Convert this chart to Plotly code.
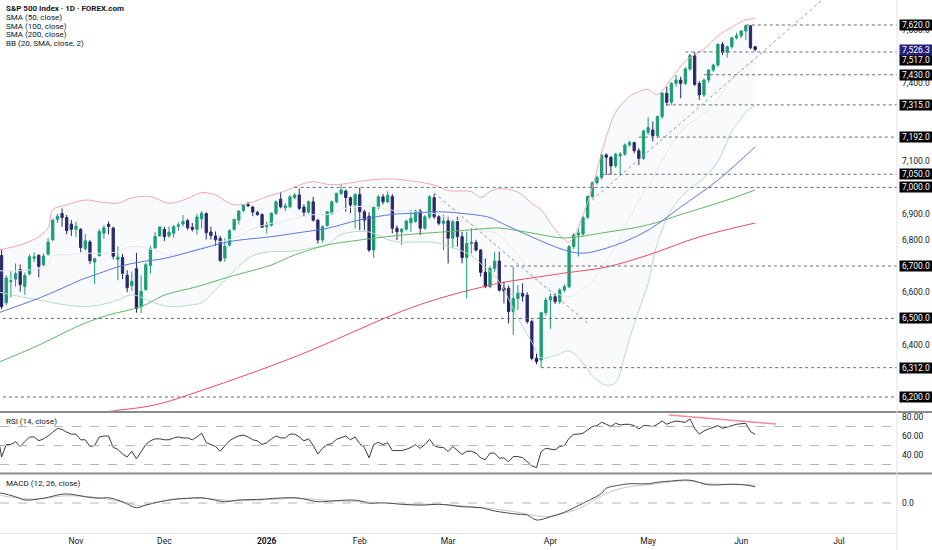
import plotly.graph_objects as go
from plotly.subplots import make_subplots
import pandas as pd

# ---------------- trading calendar (categories) ----------------
holidays = ["2025-11-27", "2025-12-25", "2026-01-01", "2026-01-19", "2026-02-16",
            "2026-04-03", "2026-05-25", "2026-06-19", "2026-07-03"]
sessions = pd.bdate_range("2025-10-09", "2026-08-31", freq="C", holidays=holidays)

# ---------------- daily OHLC ----------------
opens = [6752, 6740, 6560, 6640, 6650, 6686, 6621, 6670, 6730, 6741,
         6705, 6745, 6800, 6878, 6900, 6885, 6860, 6840, 6840, 6766,
         6792, 6715, 6740, 6825, 6859, 6845, 6725, 6733, 6665, 6625,
         6690, 6545, 6610, 6702, 6770, 6815, 6840, 6815, 6825, 6852,
         6860, 6873, 6848, 6840, 6880, 6900, 6830, 6815, 6805, 6730,
         6780, 6840, 6875, 6912, 6935, 6925, 6905, 6897, 6850, 6856,
         6901, 6955, 6922, 6926, 6961, 6971, 6925, 6905, 6945, 6875,
         6799, 6855, 6901, 6945, 6977, 6986, 6961, 6933, 6973, 6907,
         6890, 6761, 6926, 6964, 6945, 6965, 6844, 6831, 6840, 6865,
         6870, 6910, 6844, 6888, 6961, 6888, 6863, 6872, 6806, 6869,
         6812, 6732, 6786, 6790, 6761, 6676, 6621, 6691, 6719, 6615,
         6615, 6526, 6576, 6596, 6589, 6488, 6348, 6341, 6522, 6570,
         6583, 6564, 6608, 6621, 6774, 6818, 6822, 6886, 6965, 7018,
         7038, 7124, 7115, 7082, 7120, 7127, 7162, 7171, 7140, 7111,
         7210, 7219, 7198, 7270, 7359, 7325, 7397, 7410, 7397, 7452,
         7503, 7397, 7353, 7410, 7448, 7467, 7546, 7516, 7537, 7571,
         7579, 7597, 7617, 7537]
highs = [6756, 6764, 6665, 6680, 6710, 6706, 6675, 6745, 6752, 6745,
         6747, 6807, 6880, 6900, 6920, 6895, 6876, 6870, 6845, 6822,
         6800, 6731, 6841, 6855, 6870, 6850, 6775, 6746, 6684, 6679,
         6750, 6664, 6712, 6778, 6829, 6850, 6850, 6851, 6857, 6867,
         6895, 6880, 6864, 6899, 6910, 6905, 6850, 6832, 6815, 6806,
         6840, 6880, 6912, 6935, 6945, 6930, 6911, 6900, 6870, 6905,
         6950, 6983, 6940, 6970, 6978, 6996, 6935, 6950, 6964, 6880,
         6855, 6910, 6950, 6980, 7011, 6992, 6965, 6978, 6999, 6915,
         6905, 6930, 6970, 6975, 6985, 6975, 6855, 6845, 6876, 6914,
         6915, 6918, 6895, 6970, 6975, 6895, 6895, 6888, 6875, 6888,
         6831, 6831, 6844, 6800, 6765, 6729, 6700, 6755, 6755, 6640,
         6625, 6697, 6627, 6634, 6600, 6495, 6365, 6525, 6580, 6595,
         6595, 6615, 6630, 6780, 6825, 6844, 6890, 6970, 7022, 7045,
         7130, 7130, 7120, 7132, 7135, 7168, 7178, 7175, 7150, 7220,
         7268, 7251, 7275, 7365, 7385, 7402, 7429, 7423, 7458, 7510,
         7516, 7405, 7415, 7452, 7472, 7550, 7555, 7542, 7575, 7590,
         7600, 7620, 7618, 7540]
lows = [6726, 6535, 6550, 6580, 6621, 6602, 6590, 6665, 6715, 6656,
        6700, 6740, 6795, 6864, 6850, 6821, 6815, 6811, 6753, 6760,
        6707, 6631, 6735, 6804, 6820, 6725, 6646, 6650, 6600, 6604,
        6522, 6521, 6605, 6671, 6765, 6812, 6795, 6808, 6808, 6834,
        6850, 6838, 6832, 6819, 6843, 6801, 6801, 6777, 6716, 6716,
        6775, 6835, 6858, 6905, 6925, 6890, 6892, 6845, 6824, 6850,
        6895, 6920, 6910, 6920, 6955, 6913, 6888, 6900, 6870, 6786,
        6790, 6850, 6895, 6940, 6970, 6907, 6901, 6843, 6837, 6837,
        6754, 6731, 6915, 6935, 6940, 6825, 6799, 6780, 6835, 6831,
        6865, 6818, 6838, 6880, 6880, 6855, 6761, 6710, 6767, 6774,
        6710, 6577, 6748, 6755, 6659, 6615, 6615, 6678, 6602, 6557,
        6481, 6437, 6532, 6564, 6480, 6340, 6325, 6312, 6510, 6460,
        6555, 6555, 6600, 6615, 6765, 6736, 6815, 6880, 6958, 7010,
        7030, 7047, 7047, 7075, 7047, 7120, 7155, 7130, 7085, 7105,
        7200, 7175, 7190, 7262, 7312, 7315, 7385, 7340, 7390, 7445,
        7388, 7334, 7345, 7400, 7440, 7460, 7505, 7495, 7530, 7565,
        7570, 7563, 7528, 7520]
closes = [6735, 6545, 6654, 6644, 6671, 6629, 6664, 6735, 6735, 6699,
          6738, 6791, 6875, 6890, 6885, 6835, 6840, 6852, 6771, 6796,
          6720, 6728, 6832, 6846, 6851, 6737, 6734, 6672, 6617, 6642,
          6538, 6603, 6705, 6766, 6813, 6849, 6812, 6829, 6850, 6857,
          6870, 6846, 6840, 6887, 6901, 6827, 6816, 6800, 6721, 6775,
          6835, 6878, 6910, 6932, 6930, 6906, 6896, 6848, 6859, 6901,
          6945, 6926, 6930, 6964, 6971, 6920, 6905, 6945, 6875, 6799,
          6850, 6907, 6945, 6977, 6990, 6961, 6933, 6973, 6907, 6875,
          6761, 6926, 6964, 6945, 6970, 6844, 6831, 6840, 6872, 6882,
          6910, 6844, 6888, 6964, 6888, 6863, 6872, 6806, 6869, 6812,
          6732, 6786, 6790, 6761, 6676, 6621, 6691, 6719, 6608, 6605,
          6526, 6576, 6596, 6585, 6488, 6348, 6335, 6522, 6570, 6583,
          6564, 6608, 6621, 6774, 6818, 6826, 6886, 6965, 7018, 7038,
          7124, 7115, 7082, 7127, 7127, 7162, 7171, 7140, 7110, 7215,
          7228, 7198, 7270, 7359, 7325, 7397, 7410, 7397, 7452, 7503,
          7393, 7353, 7410, 7448, 7467, 7546, 7516, 7537, 7571, 7579,
          7597, 7617, 7533, 7526.3]
bars = list(range(len(closes)))

# ---------------- overlays (read at sampled sessions) ----------------
sma50_bar = [0, 5, 9, 14, 18, 22, 26, 31, 36, 43, 50, 59, 64, 71, 78, 85, 89, 95, 100, 106,
             108, 115, 122, 126, 133, 140, 147, 155, 163]
sma50 = [6519, 6551, 6577, 6615, 6647, 6672, 6697, 6716, 6729, 6761, 6793, 6812, 6825, 6844,
         6876, 6897, 6901, 6907, 6901, 6885, 6868, 6811, 6761, 6749, 6780, 6837, 6925, 7028, 7155]
sma100_bar = [0, 9, 18, 24, 31, 36, 43, 50, 59, 64, 71, 78, 87, 92, 99, 106, 108, 115, 122,
              130, 140, 148, 155, 163]
sma100 = [6330, 6398, 6475, 6513, 6545, 6589, 6621, 6659, 6704, 6742, 6780, 6799, 6818, 6825,
          6834, 6844, 6845, 6826, 6807, 6826, 6857, 6902, 6940, 6990]
sma200_bar = [20, 25, 34, 44, 65, 85, 92, 99, 106, 108, 122, 131, 140, 151, 163]
sma200 = [6135, 6147, 6170, 6225, 6360, 6513, 6559, 6596, 6627, 6635, 6673, 6696, 6742, 6811, 6864]

bb_bar = [0, 5, 9, 11, 12, 15, 19, 22, 26, 29, 33, 37, 41, 44, 47, 50, 52, 55, 59, 61,
          65, 68, 71, 74, 80, 85, 94, 97, 102, 104, 106, 108, 112, 115, 117, 120, 123, 126, 128, 131,
          133, 135, 136, 138, 140, 142, 145, 148, 152, 155, 158, 160, 161, 163]
bb_upper = [6761, 6780, 6812, 6845, 6915, 6933, 6952, 6945, 6940, 6960,
            6965, 6939, 6958, 6980, 6971, 6939, 6933, 6945, 6971, 6980,
            7009, 7022, 7012, 7012, 7028, 7032, 7009, 6988, 6984, 6962,
            6984, 6995, 6982, 6939, 6914, 6840, 6792, 6895, 7001, 7193,
            7287, 7330, 7347, 7366, 7374, 7355, 7415, 7482, 7528, 7578, 7612, 7632, 7640, 7645]
bb_lower = [6602, 6583, 6570, 6564, 6560, 6551, 6545, 6551, 6570, 6590,
            6565, 6545, 6550, 6560, 6610, 6663, 6700, 6740, 6755, 6755,
            6760, 6770, 6780, 6820, 6830, 6795, 6790, 6776, 6740, 6709,
            6680, 6640, 6502, 6409, 6350, 6358, 6375, 6330, 6281, 6245,
            6255, 6360, 6423, 6530, 6635, 6788, 6915, 6980, 7036, 7100, 7215, 7262, 7288, 7313]
bb_basis = [6682, 6682, 6691, 6705, 6738, 6742, 6749, 6748, 6755, 6775,
            6765, 6742, 6754, 6770, 6790, 6800, 6816, 6842, 6863, 6867,
            6885, 6896, 6896, 6916, 6929, 6913, 6900, 6882, 6862, 6837,
            6832, 6818, 6742, 6674, 6632, 6598, 6583, 6612, 6641, 6719,
            6771, 6845, 6885, 6948, 7005, 7070, 7163, 7231, 7282, 7339, 7414, 7447, 7464, 7479]

# horizontal levels (price, session they start from)
level_prices = [7620.0, 7517.0, 7430.0, 7315.0, 7192.0, 7050.0, 7000.0, 6700.0, 6500.0, 6312.0, 6200.0]
level_from = [161, 148, 152, 144, 138, 130, 64, 109, 0, 117, 0]
last_price = 7526.3

# price-scale ticks that stay visible next to the level labels
price_ticks = [6400, 6600, 6800, 6900, 7100, 7400, 7600, 7700]

# trend lines (session, price)
down_trend_bar = [94, 127]
down_trend_px = [6979, 6482]
up_trend_bar = [128, 178]
up_trend_px = [6952, 7724]

# ---------------- oscillators ----------------
rsi = [66, 38, 51, 51, 54, 49, 54, 59, 59, 55,
       57, 60, 64, 68, 67, 64, 62, 62, 56, 56,
       49, 50, 59, 60, 60, 48, 46, 41, 38, 44,
       36, 44, 51, 55, 57, 57, 56, 56, 58, 59,
       58, 58, 56, 59, 63, 53, 51, 49, 44, 49,
       55, 58, 60, 61, 59, 56, 55, 51, 53, 57,
       60, 58, 58, 62, 62, 59, 55, 57, 50, 41,
       47, 51, 52, 56.5, 58, 60, 56, 59, 52, 48,
       37, 51, 53.4, 51, 53, 44.7, 44.7, 44.7, 46, 48,
       51, 47, 51, 56.5, 50, 48, 48, 43.6, 49, 45,
       40.5, 44, 44, 42, 37, 35, 42, 42, 36.6, 37,
       33, 38.4, 38.4, 37.3, 33, 28.6, 26.8, 43.6, 47.1, 46,
       45.4, 48.9, 50, 57.6, 61.8, 62, 62.9, 66.4, 69.9, 70.9,
       74.4, 72.3, 70, 73.4, 71.6, 72.3, 72.3, 70.9, 67.4, 70.9,
       70.9, 69.9, 72.3, 75.8, 72.3, 74.4, 75.8, 75.1, 74.4, 77.9,
       68.1, 62, 65.3, 67.4, 69, 70.9, 68.1, 69.9, 70.9, 72.3,
       73, 73.4, 64.6, 61.8]
rsi_div_bar = [144.5, 167.5]
rsi_div_val = [82.1, 72.7]

macd_bar = [0, 1, 4, 6, 10, 14, 16, 19, 22, 24, 27, 30, 32, 35, 38, 41, 44, 46, 49, 52,
            57, 60, 64, 66, 69, 72, 76, 78, 80, 83, 87, 90, 92, 95, 97, 100, 104, 107, 112, 114,
            116, 119, 122, 126, 130, 131, 134, 136, 140, 142, 145, 148, 150, 152, 154, 158, 161, 163]
macd = [40, 39, 25, 12, 19, 35, 35, 25, 19, 21, 5, -19, -8, 5, 15, 19, 21, 15, 5, 12,
        15, 19, 21, 16, 5, 8, 12, 9, -1, 1, -5, -8, -8, -5, -8, -15, -19, -32, -45, -48,
        -68, -55, -37, -1, 39, 59, 72, 77, 77, 83, 88, 92, 88, 76, 72, 75, 72, 65]
signal_bar = [0, 8, 15, 22, 29, 31, 36, 44, 51, 58, 65, 72, 79, 87, 94, 100, 107, 112, 115, 118,
              122, 126, 129, 133, 137, 141, 145, 148, 151, 154, 158, 163]
signal = [32, 16, 29, 21, -5, -11, 9, 19, 9, 13, 19, 9, 5, -4, -5, -11, -24, -37, -48, -55,
          -41, -15, 19, 52, 68, 75, 85, 89, 83, 76, 75, 72]

legend_lines = ["S&amp;P 500 Index · 1D · FOREX.com", "SMA (50, close)", "SMA (100, close)",
                "SMA (200, close)", "BB (20, SMA, close, 2)"]

# ---------------- styling ----------------
W, H = 932, 550
XD = 897 / W
X_MIN, X_MAX = 0.66, 193.5
UP, DN = "#0c9a6c", "#1c1b5e"
FONT = "Roboto"
TXT = "#131722"

def py(px):  # pixel row -> paper y
    return 1 - px / H

fig = make_subplots(rows=3, cols=1, shared_xaxes=True)

# Bollinger fill + lines
fig.add_trace(go.Scatter(x=bb_bar, y=bb_upper, mode="lines", line=dict(color="#f2a7b3", width=1, shape="spline"),
                         hoverinfo="skip", showlegend=False), row=1, col=1)
fig.add_trace(go.Scatter(x=bb_bar, y=bb_lower, mode="lines", line=dict(color="#b5dcc6", width=1, shape="spline"),
                         fill="tonexty", fillcolor="rgba(190,200,220,0.09)", hoverinfo="skip", showlegend=False), row=1, col=1)
fig.add_trace(go.Scatter(x=bb_bar, y=bb_basis, mode="lines", line=dict(color="#e6e8ec", width=1, shape="spline"),
                         hoverinfo="skip", showlegend=False), row=1, col=1)

# moving averages
for xs, ys, col in [(sma200_bar, sma200, "#ec4b62"), (sma100_bar, sma100, "#61b865"), (sma50_bar, sma50, "#5a78dd")]:
    fig.add_trace(go.Scatter(x=xs, y=ys, mode="lines", line=dict(color=col, width=1, shape="spline"),
                             hoverinfo="skip", showlegend=False), row=1, col=1)

# horizontal levels
for p, b in zip(level_prices, level_from):
    fig.add_trace(go.Scatter(x=[max(b, X_MIN - 1), X_MAX], y=[p, p], mode="lines",
                             line=dict(color="#6a6d78", width=1, dash="dot"),
                             hoverinfo="skip", showlegend=False), row=1, col=1)

# trend lines
for xs, ys in [(down_trend_bar, down_trend_px), (up_trend_bar, up_trend_px)]:
    fig.add_trace(go.Scatter(x=xs, y=ys, mode="lines", line=dict(color="#9598a1", width=1, dash="dot"),
                             hoverinfo="skip", showlegend=False), row=1, col=1)

# candles
fig.add_trace(go.Candlestick(x=bars, open=opens, high=highs, low=lows, close=closes,
                             increasing=dict(line=dict(color=UP, width=1), fillcolor=UP),
                             decreasing=dict(line=dict(color=DN, width=1), fillcolor=DN),
                             whiskerwidth=0, hoverinfo="skip", showlegend=False), row=1, col=1)

# RSI
fig.add_trace(go.Scatter(x=bars, y=rsi, mode="lines", line=dict(color="#3a3a3a", width=1),
                         hoverinfo="skip", showlegend=False), row=2, col=1)
fig.add_trace(go.Scatter(x=rsi_div_bar, y=rsi_div_val, mode="lines", line=dict(color="#f08a9c", width=1.5),
                         hoverinfo="skip", showlegend=False), row=2, col=1)

# MACD
fig.add_trace(go.Scatter(x=signal_bar, y=signal, mode="lines", line=dict(color="#c4c6cc", width=1, shape="spline"),
                         hoverinfo="skip", showlegend=False), row=3, col=1)
fig.add_trace(go.Scatter(x=macd_bar, y=macd, mode="lines", line=dict(color="#4a4a4a", width=1, shape="spline"),
                         hoverinfo="skip", showlegend=False), row=3, col=1)

# month ticks from the session calendar
tick_vals, tick_text = [], []
seen = set()
for i, d in enumerate(sessions):
    key = (d.year, d.month)
    if key in seen:
        continue
    seen.add(key)
    if i < 5 or i > X_MAX:
        continue
    tick_vals.append(i)
    tick_text.append("<b>%d</b>" % d.year if d.month == 1 else d.strftime("%b"))

axfont = dict(family=FONT, size=8.5, color=TXT)
common_x = dict(range=[X_MIN, X_MAX], domain=[0, XD], showgrid=False, zeroline=False,
                ticks="", rangeslider=dict(visible=False))
fig.update_layout(
    width=W, height=H, margin=dict(l=0, r=0, t=0, b=0),
    paper_bgcolor="white", plot_bgcolor="white", showlegend=False,
    font=dict(family=FONT, color=TXT),
    xaxis={**common_x, "showticklabels": False, "showline": False},
    xaxis2={**common_x, "showticklabels": False, "showline": False},
    xaxis3={**common_x, "showticklabels": True, "tickvals": tick_vals, "ticktext": tick_text,
            "tickfont": axfont, "showline": True, "linecolor": "#e0e3eb", "linewidth": 1},
    yaxis=dict(domain=[py(411), 1], range=[6146.6, 7715.3], side="right", showgrid=False, zeroline=False,
               tickvals=price_ticks, ticktext=["{:,.1f}".format(v) for v in price_ticks],
               tickfont=axfont, ticks="", ticklabelstandoff=4),
    yaxis2=dict(domain=[py(471), py(413)], range=[23.2, 84.2], side="right", showgrid=False, zeroline=False,
                tickvals=[40, 60, 80], ticktext=["40.00", "60.00", "80.00"], tickfont=axfont, ticks="",
                ticklabelstandoff=4),
    yaxis3=dict(domain=[py(533), py(474)], range=[-120, 116], side="right", showgrid=False, zeroline=False,
                tickvals=[0], ticktext=["0.0"], tickfont=axfont, ticks="", ticklabelstandoff=4),
)

shapes = []
# pane separators
for ypx in [412, 473.5]:
    shapes.append(dict(type="line", xref="paper", yref="paper", x0=0, x1=1, y0=py(ypx), y1=py(ypx),
                       line=dict(color="#8a8c93", width=2)))
# right axis border
shapes.append(dict(type="line", xref="paper", yref="paper", x0=XD, x1=XD, y0=0, y1=1,
                   line=dict(color="#e0e3eb", width=1)))
# RSI bands
for lv in [70, 50, 30]:
    shapes.append(dict(type="line", xref="x2 domain", yref="y2", x0=0, x1=1, y0=lv, y1=lv,
                       line=dict(color="#b2b5be", width=1, dash="dash")))
shapes.append(dict(type="line", xref="x3 domain", yref="y3", x0=0, x1=1, y0=0, y1=0,
                   line=dict(color="#b2b5be", width=1, dash="dash")))
fig.update_layout(shapes=shapes)

ann = []
for k, t in enumerate(legend_lines):
    ann.append(dict(xref="paper", yref="paper", x=4 / W, y=py(8.3 + 8.9 * k), xanchor="left", yanchor="middle",
                    text=("<b>%s</b>" % t) if k == 0 else t, showarrow=False,
                    font=dict(family=FONT, size=8, color=TXT)))
ann.append(dict(xref="paper", yref="paper", x=4 / W, y=py(421.5), xanchor="left", yanchor="middle",
                text="RSI (14, close)", showarrow=False, font=dict(family=FONT, size=8, color=TXT)))
ann.append(dict(xref="paper", yref="paper", x=4 / W, y=py(483.5), xanchor="left", yanchor="middle",
                text="MACD (12, 26, close)", showarrow=False, font=dict(family=FONT, size=8, color=TXT)))
# price labels
for p in level_prices:
    ann.append(dict(xref="paper", yref="y", x=898.5 / W, y=p, xanchor="left", yanchor="middle",
                    yshift=-8.5 if p == 7517.0 else 0,
                    text="{:,.1f}".format(p), showarrow=False, bgcolor="#000000", width=32, height=10,
                    borderpad=0, font=dict(family=FONT, size=8.5, color="white")))
ann.append(dict(xref="paper", yref="y", x=898.5 / W, y=last_price, xanchor="left", yanchor="middle",
                text="{:,.1f}".format(last_price), showarrow=False, bgcolor="#23237d", width=32, height=10,
                borderpad=0, font=dict(family=FONT, size=8.5, color="white")))
fig.update_layout(annotations=ann)

fig.write_html("out.html", config={"displayModeBar": False},
               post_script="document.body.style.margin='0px';")
